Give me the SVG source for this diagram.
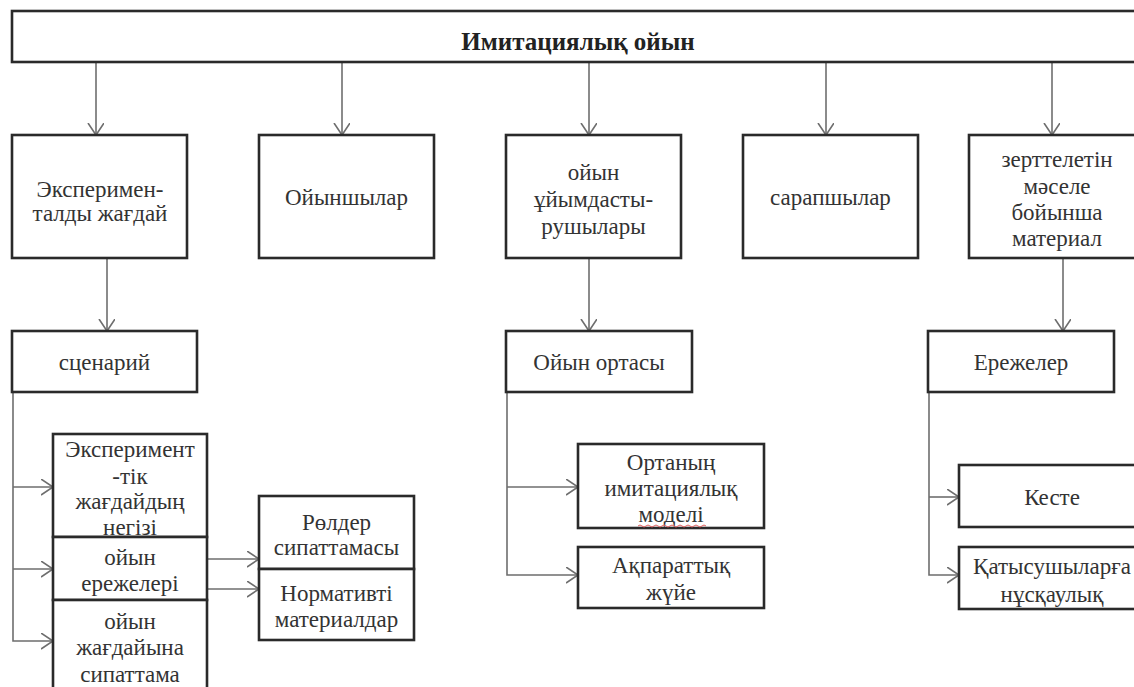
<svg xmlns="http://www.w3.org/2000/svg" width="1134" height="687" viewBox="0 0 1134 687">
<style>
.box{fill:#fff;stroke:#2a2a2a;stroke-width:2.6}
.t{font-family:'Liberation Serif','DejaVu Serif',serif;font-size:23px;fill:#333;text-anchor:middle}
.title{font-weight:bold;font-size:25px;fill:#222}
.c{fill:none;stroke:#6e6e6e;stroke-width:1.6}
</style>
<defs>
<marker id="ah" markerUnits="userSpaceOnUse" markerWidth="14" markerHeight="18" refX="12" refY="8" orient="auto" viewBox="0 0 14 18">
<path d="M0,0 L12,8 L0,16" fill="none" stroke="#6e6e6e" stroke-width="1.6"/>
</marker>
</defs>
<rect width="1134" height="687" fill="#fff"/>
<g id="connectors">
<path class="c" d="M96,62 V135" marker-end="url(#ah)"/>
<path class="c" d="M342,62 V135" marker-end="url(#ah)"/>
<path class="c" d="M589,62 V135" marker-end="url(#ah)"/>
<path class="c" d="M826,62 V135" marker-end="url(#ah)"/>
<path class="c" d="M1052,62 V135" marker-end="url(#ah)"/>
<path class="c" d="M107,258 V331" marker-end="url(#ah)"/>
<path class="c" d="M589,258 V331" marker-end="url(#ah)"/>
<path class="c" d="M1063,258 V331" marker-end="url(#ah)"/>
<path class="c" d="M13,392 V641 H53" marker-end="url(#ah)"/>
<path class="c" d="M13,487 H53" marker-end="url(#ah)"/>
<path class="c" d="M13,569 H53" marker-end="url(#ah)"/>
<path class="c" d="M207,559 H259" marker-end="url(#ah)"/>
<path class="c" d="M207,589 H259" marker-end="url(#ah)"/>
<path class="c" d="M507,392 V575 H578" marker-end="url(#ah)"/>
<path class="c" d="M507,487 H578" marker-end="url(#ah)"/>
<path class="c" d="M929,392 V575 H959" marker-end="url(#ah)"/>
<path class="c" d="M929,497 H959" marker-end="url(#ah)"/>
</g>
<g id="n-root">
<rect class="box" x="12" y="11" width="1130" height="51"/>
<text class="t title" x="578" y="50">Имитациялық ойын</text>
</g>
<g id="n-exp">
<rect class="box" x="12" y="135" width="175" height="123"/>
<text class="t" x="100" y="197">Эксперимен-</text>
<text class="t" x="100" y="221">талды жағдай</text>
</g>
<g id="n-players">
<rect class="box" x="259" y="135" width="175" height="123"/>
<text class="t" x="346.5" y="205">Ойыншылар</text>
</g>
<g id="n-org">
<rect class="box" x="506" y="135" width="175" height="123"/>
<text class="t" x="593.5" y="180">ойын</text>
<text class="t" x="593.5" y="207">ұйымдасты-</text>
<text class="t" x="593.5" y="234">рушылары</text>
</g>
<g id="n-experts">
<rect class="box" x="743" y="135" width="175" height="123"/>
<text class="t" x="830.5" y="205">сарапшылар</text>
</g>
<g id="n-material">
<rect class="box" x="969" y="135" width="176" height="123"/>
<text class="t" x="1057" y="167">зерттелетін</text>
<text class="t" x="1057" y="194">мәселе</text>
<text class="t" x="1057" y="220">бойынша</text>
<text class="t" x="1057" y="246">материал</text>
</g>
<g id="n-scenario">
<rect class="box" x="12" y="331" width="185" height="61"/>
<text class="t" x="104.5" y="370">сценарий</text>
</g>
<g id="n-env">
<rect class="box" x="506" y="331" width="186" height="61"/>
<text class="t" x="599" y="370">Ойын ортасы</text>
</g>
<g id="n-rules">
<rect class="box" x="928" y="331" width="186" height="61"/>
<text class="t" x="1021" y="370">Ережелер</text>
</g>
<g id="n-basis">
<rect class="box" x="53" y="434" width="154" height="103"/>
<text class="t" x="130" y="457">Эксперимент</text>
<text class="t" x="130" y="484">-тік</text>
<text class="t" x="130" y="509">жағдайдың</text>
<text class="t" x="130" y="535">негізі</text>
</g>
<g id="n-gamerules">
<rect class="box" x="53" y="537" width="154" height="63"/>
<text class="t" x="130" y="565">ойын</text>
<text class="t" x="130" y="591">ережелері</text>
</g>
<g id="n-desc">
<rect class="box" x="53" y="600" width="154" height="100"/>
<text class="t" x="130" y="629">ойын</text>
<text class="t" x="130" y="655">жағдайына</text>
<text class="t" x="130" y="682">сипаттама</text>
</g>
<g id="n-roles">
<rect class="box" x="259" y="496" width="155" height="73"/>
<text class="t" x="336.5" y="530">Рөлдер</text>
<text class="t" x="336.5" y="555">сипаттамасы</text>
</g>
<g id="n-norm">
<rect class="box" x="259" y="569" width="155" height="71"/>
<text class="t" x="336.5" y="601">Нормативті</text>
<text class="t" x="336.5" y="627">материалдар</text>
</g>
<g id="n-model">
<rect class="box" x="578" y="444" width="186" height="84"/>
<text class="t" x="671" y="470">Ортаның</text>
<text class="t" x="671" y="496">имитациялық</text>
<text class="t" x="671" y="522">моделі</text>
<path d="M638,526 q2,-2 4,0 t4,0 t4,0 t4,0 t4,0 t4,0 t4,0 t4,0 t4,0 t4,0 t4,0 t4,0 t4,0 t4,0 t4,0 t4,0 t4,0" fill="none" stroke="#e06060" stroke-width="1"/>
</g>
<g id="n-info">
<rect class="box" x="578" y="547" width="186" height="61"/>
<text class="t" x="671" y="573">Ақпараттық</text>
<text class="t" x="671" y="600">жүйе</text>
</g>
<g id="n-schedule">
<rect class="box" x="959" y="465" width="186" height="62"/>
<text class="t" x="1052" y="505">Кесте</text>
</g>
<g id="n-guide">
<rect class="box" x="959" y="547" width="186" height="62"/>
<text class="t" x="1052" y="574">Қатысушыларға</text>
<text class="t" x="1052" y="602">нұсқаулық</text>
</g>
</svg>
